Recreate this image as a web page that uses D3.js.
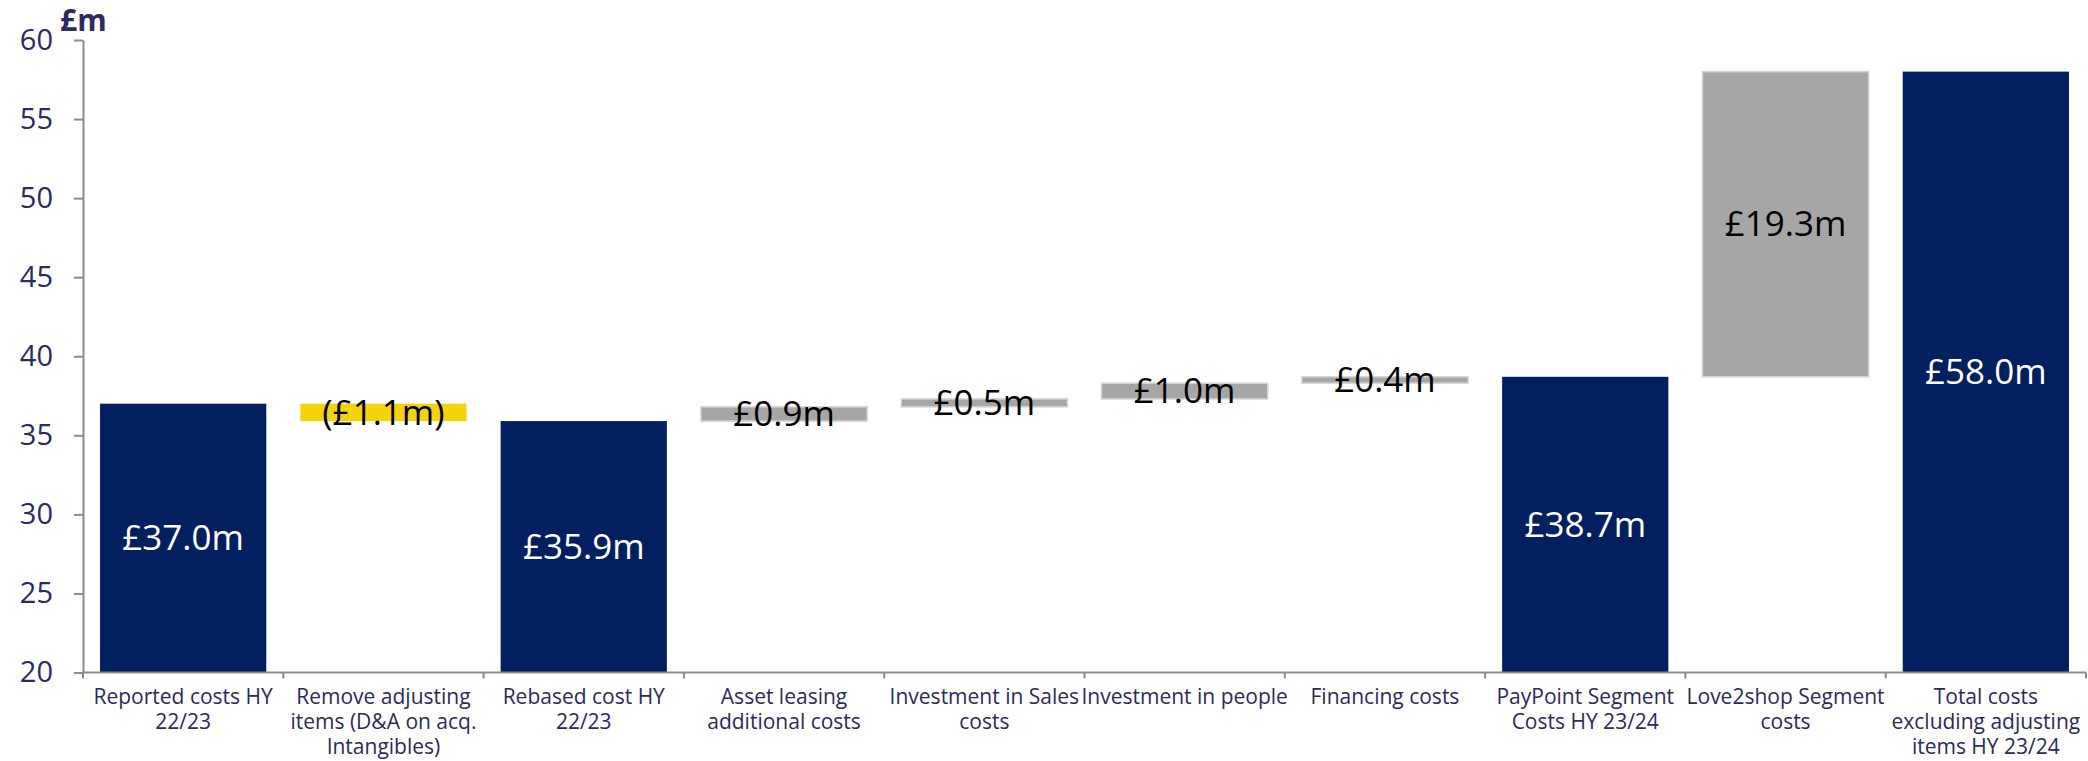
<!DOCTYPE html>
<html>
  <head>
    <title>Cost bridge</title>
    <style>
      body { margin: 0; background: #fff; }
      text { font-family: "Open Sans", sans-serif; }
      .axis path, .axis line { stroke: #8c8c8c; stroke-width: 2px; }
      .axis text { fill: #2c2a5e; }
    </style>
    <script src="https://cdn.jsdelivr.net/npm/d3@7"></script>
  </head>
  <body>
    <div id="chart"></div>
    <script type="text/javascript">
      // categories, with line breaks as in the original labels
      var categories = [
        "Reported costs HY\n22/23",
        "Remove adjusting\nitems (D&A on acq.\nIntangibles)",
        "Rebased cost HY\n22/23",
        "Asset leasing\nadditional costs",
        "Investment in Sales\ncosts",
        "Investment in people",
        "Financing costs",
        "PayPoint Segment\nCosts HY 23/24",
        "Love2shop Segment\ncosts",
        "Total costs\nexcluding adjusting\nitems HY 23/24"
      ];
      var values = [37.0, -1.1, 35.9, 0.9, 0.5, 1.0, 0.4, 38.7, 19.3, 58.0];
      var kinds  = ["total", "down", "total", "up", "up", "up", "up", "total", "up", "total"];
      var labels = ["£37.0m", "(£1.1m)", "£35.9m", "£0.9m", "£0.5m", "£1.0m", "£0.4m", "£38.7m", "£19.3m", "£58.0m"];
      var yTicks = [20, 25, 30, 35, 40, 45, 50, 55, 60];

      var width = 2088, height = 761;
      var plotLeft = 83, plotRight = 2086, plotTop = 40, plotBottom = 672.5;

      var colors = { total: "#022060", down: "#f5d30a", up: "#a6a6a6" };

      var svg = d3.select("#chart").append("svg")
          .attr("width", width)
          .attr("height", height);

      var x = d3.scaleBand()
          .domain(categories)
          .range([plotLeft, plotRight])
          .paddingInner(0.17)
          .paddingOuter(0.085);

      var y = d3.scaleLinear()
          .domain([20, 60])
          .range([plotBottom, plotTop]);

      // waterfall start/end for each bar
      var running = 0;
      var data = categories.map(function(c, i) {
        var from, to;
        if (kinds[i] == "total") {
          from = y.domain()[0];
          to = values[i];
          running = values[i];
        } else {
          from = running;
          to = running + values[i];
          running = to;
        }
        return { cat: c, kind: kinds[i], lo: Math.min(from, to), hi: Math.max(from, to), label: labels[i] };
      });

      svg.selectAll(".bar")
          .data(data)
          .enter()
          .append("rect")
          .attr("class", "bar")
          .attr("x", function(d){ return x(d.cat); })
          .attr("y", function(d){ return y(d.hi); })
          .attr("width", x.bandwidth())
          .attr("height", function(d){ return y(d.lo) - y(d.hi); })
          .style("fill", function(d){ return colors[d.kind]; })
          .style("stroke", function(d){ return d.kind == "up" ? "#d4d4d4" : "none"; })
          .style("stroke-width", 1.5);

      svg.selectAll(".val")
          .data(data)
          .enter()
          .append("text")
          .attr("class", "val")
          .attr("x", function(d){ return x(d.cat) + x.bandwidth() / 2; })
          .attr("y", function(d){ return (y(d.lo) + y(d.hi)) / 2; })
          .attr("dy", "0.35em")
          .attr("text-anchor", "middle")
          .style("font-size", "35px")
          .style("fill", function(d){ return d.kind == "total" ? "#ffffff" : "#000000"; })
          .text(function(d){ return d.label; });

      // y axis
      var yAxis = svg.append("g")
          .attr("class", "axis")
          .attr("transform", "translate(" + plotLeft + ",0)")
          .call(d3.axisLeft(y).tickValues(yTicks).tickSize(9).tickSizeOuter(0).tickPadding(21));
      yAxis.selectAll("text").style("font-size", "29px");

      // x axis: line plus ticks on the band edges
      var xAxis = svg.append("g").attr("class", "axis");
      xAxis.append("line")
          .attr("x1", plotLeft).attr("x2", plotRight)
          .attr("y1", plotBottom).attr("y2", plotBottom);
      var edges = categories.map(function(c){ return x(c) - x.step() * x.paddingInner() / 2; });
      edges.push(plotRight);
      xAxis.selectAll(".edge")
          .data(edges)
          .enter()
          .append("line")
          .attr("x1", function(d){ return d; })
          .attr("x2", function(d){ return d; })
          .attr("y1", plotBottom)
          .attr("y2", plotBottom + 6);

      var cl = xAxis.selectAll(".cat")
          .data(categories)
          .enter()
          .append("text")
          .attr("class", "cat")
          .attr("text-anchor", "middle")
          .attr("x", function(d){ return x(d) + x.bandwidth() / 2; })
          .attr("y", 704)
          .style("font-size", "21px");
      cl.selectAll("tspan")
          .data(function(d){ return d.split("\n"); })
          .enter()
          .append("tspan")
          .attr("x", function(){ return d3.select(this.parentNode).attr("x"); })
          .attr("dy", function(d, i){ return i == 0 ? 0 : 25; })
          .text(function(d){ return d; });

      svg.append("text")
          .attr("x", 60)
          .attr("y", 31)
          .style("font-size", "30px")
          .style("font-weight", "bold")
          .style("fill", "#2c2a5e")
          .text("£m");
    </script>
  </body>
</html>
